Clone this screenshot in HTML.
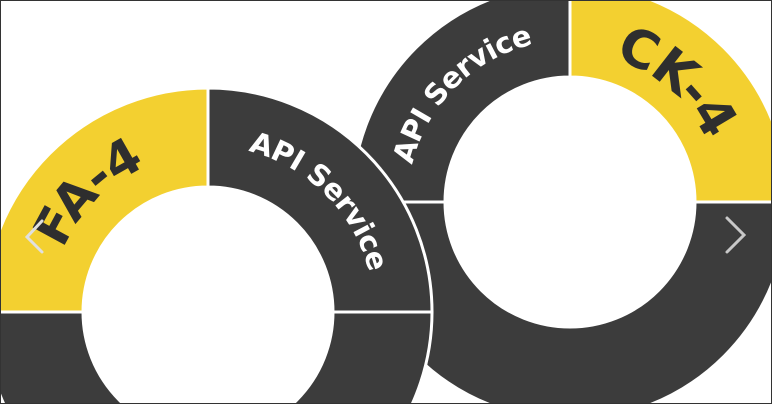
<!DOCTYPE html>
<html><head><meta charset="utf-8"><style>
html,body{margin:0;padding:0;background:#fff;width:772px;height:404px;overflow:hidden;}
svg{display:block;}
</style></head><body>
<svg width="772" height="404" viewBox="0 0 772 404" xmlns="http://www.w3.org/2000/svg">
<defs>
<path id="lfa" d="M50 312 A158 158 0 0 1 366 312"/>
<path id="lapi" d="M42 312 A166 166 0 0 1 374 312"/>
<path id="rapi" d="M408 202 A162 162 0 0 1 732 202"/>
<path id="rck" d="M420 202 A150 150 0 0 1 720 202"/>
</defs>
<g stroke="#fff" stroke-width="3">
<path fill="#3c3c3c" d="M352 202 A218 218 0 0 1 570 -16 L570 77 A125 125 0 0 0 445 202 Z"/>
<path fill="#f3d030" d="M570 -16 A218 218 0 0 1 788 202 L695 202 A125 125 0 0 0 570 77 Z"/>
<path fill="#3c3c3c" d="M788 202 A218 218 0 0 1 352 202 L445 202 A125 125 0 0 0 695 202 Z"/>
<path fill="#f3d030" d="M-16 312 A224 224 0 0 1 208 88 L208 187 A125 125 0 0 0 83 312 Z"/>
<path fill="#3c3c3c" d="M208 88 A224 224 0 0 1 432 312 L333 312 A125 125 0 0 0 208 187 Z"/>
<path fill="#3c3c3c" d="M432 312 A224 224 0 0 1 -16 312 L83 312 A125 125 0 0 0 333 312 Z"/>
</g>
<g font-family="'DejaVu Sans','Liberation Sans',sans-serif" font-weight="bold">
<text font-size="50" fill="#2e2e2e" letter-spacing="-1"><textPath href="#lfa" startOffset="25%" text-anchor="middle">FA-4</textPath></text>
<text font-size="29" fill="#fff" letter-spacing="-0.5"><textPath href="#lapi" startOffset="75%" text-anchor="middle">API Service</textPath></text>
<text font-size="29" fill="#fff" letter-spacing="-0.5"><textPath href="#rapi" startOffset="25%" text-anchor="middle">API Service</textPath></text>
<text font-size="52" fill="#2e2e2e" letter-spacing="-1"><textPath href="#rck" startOffset="73%" text-anchor="middle">CK-4</textPath></text>
</g>
<polyline points="727,218 744,235 727,252" fill="none" stroke="#c8c8c8" stroke-width="3" stroke-linecap="round"/>
<polyline points="42,221 27,237 42,252" fill="none" stroke="#e0e0e0" stroke-width="3" stroke-linecap="round"/>
<rect x="0.5" y="0.5" width="771" height="403" fill="none" stroke="#333" stroke-width="1"/>
</svg>
</body></html>
